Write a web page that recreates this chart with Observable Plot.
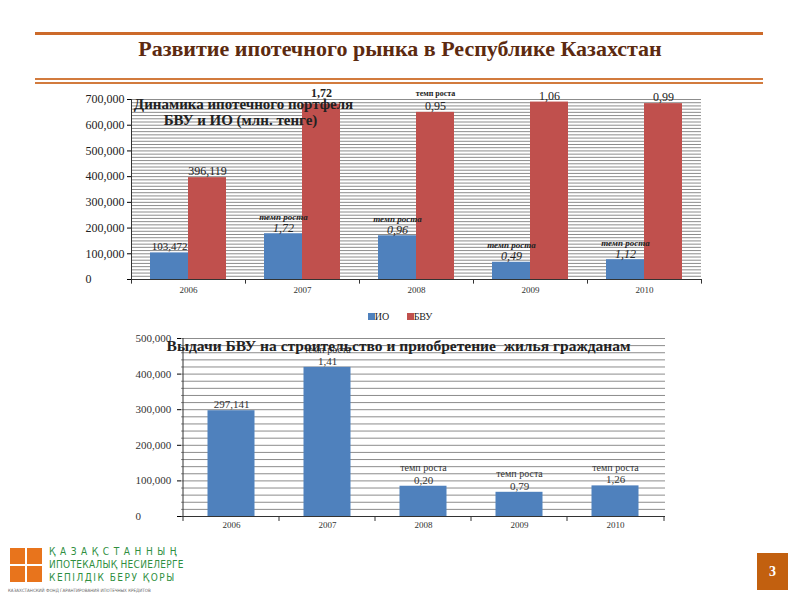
<!DOCTYPE html>
<html><head><meta charset="utf-8">
<script src="https://cdn.jsdelivr.net/npm/d3@7"></script>
<script src="https://cdn.jsdelivr.net/npm/@observablehq/plot@0.6"></script>
<style>
html,body{margin:0;padding:0;background:#fff;}
#page{position:relative;width:800px;height:600px;overflow:hidden;font-family:"Liberation Serif",serif;}
.abs{position:absolute;}
</style></head>
<body><div id="page">
<div class="abs" style="left:35px;top:32px;width:728px;height:3px;background:#cc6a2a"></div>
<div class="abs" id="title" style="left:0;top:36px;width:800px;text-align:center;font-size:22px;font-weight:bold;color:#5c2a10;">Развитие ипотечного рынка в Республике Казахстан</div>
<div class="abs" style="left:35px;top:78px;width:728px;height:2px;background:#d27b3e"></div>
<div class="abs" style="left:35px;top:82px;width:728px;height:2px;background:#d27b3e"></div>
<div class="abs" id="top" style="left:0;top:85px;"></div>
<div class="abs" id="legend" style="left:0;top:311px;width:800px;text-align:center;font-size:10px;color:#222;">
<span style="display:inline-block;width:7px;height:7px;background:#4F81BD;"></span>ИО&nbsp;&nbsp;&nbsp;&nbsp;&nbsp;&nbsp;&nbsp;<span style="display:inline-block;width:7px;height:7px;background:#C0504D;"></span>БВУ</div>
<div class="abs" id="bottom" style="left:0;top:330px;"></div>
<div class="abs" style="left:10px;top:548px;width:15px;height:16px;background:#e8741c"></div>
<div class="abs" style="left:27px;top:548px;width:15px;height:16px;background:#e8741c"></div>
<div class="abs" style="left:10px;top:566px;width:15px;height:16px;background:#e8741c"></div>
<div class="abs" style="left:27px;top:566px;width:15px;height:16px;background:#e8741c"></div>
<div class="abs" style="left:49px;top:546px;font-family:'DejaVu Sans Condensed','DejaVu Sans';font-size:10px;letter-spacing:4.6px;color:#2f8f3f;">ҚАЗАҚСТАННЫҢ</div>
<div class="abs" style="left:49px;top:559px;font-family:'DejaVu Sans Condensed','DejaVu Sans';font-size:10px;letter-spacing:0.3px;color:#2f8f3f;">ИПОТЕКАЛЫҚ НЕСИЕЛЕРГЕ</div>
<div class="abs" style="left:49px;top:572px;font-family:'DejaVu Sans Condensed','DejaVu Sans';font-size:10px;letter-spacing:1.5px;color:#2f8f3f;">КЕПІЛДІК БЕРУ ҚОРЫ</div>
<div class="abs" style="left:8px;top:588px;font-family:'DejaVu Sans Condensed','DejaVu Sans';font-size:4.5px;color:#666;">КАЗАХСТАНСКИЙ ФОНД ГАРАНТИРОВАНИЯ ИПОТЕЧНЫХ КРЕДИТОВ</div>
<div class="abs" style="left:757px;top:553px;width:31px;height:37px;background:#c2600f;color:#fff;font-weight:bold;font-size:14px;line-height:37px;text-align:center;">3</div>
</div>
<script>
const years = ["2006", "2007", "2008", "2009", "2010"];
const ioValues = [103472, 178000, 170000, 67000, 77000];
const bvuValues = [396119, 682000, 650000, 690000, 684000];
const ioLabels = ["103,472", "1,72", "0,96", "0,49", "1,12"];
const ioHeads = ["", "темп роста", "темп роста", "темп роста", "темп роста"];
const bvuLabels = ["396,119", "1,72", "0,95", "1,06", "0,99"];
const bvuHeads = ["", "", "темп роста", "", ""];
const topTicks = [0, 100000, 200000, 300000, 400000, 500000, 600000, 700000];
const topGridStep = 12500;

const loanValues = [297141, 419000, 85000, 68000, 86000];
const loanLabels = ["297,141", "1,41", "0,20", "0,79", "1,26"];
const loanHeads = ["", "темп роста", "темп роста", "темп роста", "темп роста"];
const bottomTicks = [0, 100000, 200000, 300000, 400000, 500000];
const bottomGridStep = 20000;

const seriesNames = ["ИО", "БВУ"];
const colors = ["#4F81BD", "#C0504D"];

const io = years.map((year, i) => ({year, value: ioValues[i], label: ioLabels[i], head: ioHeads[i]}));
const bvu = years.map((year, i) => ({year, value: bvuValues[i], label: bvuLabels[i], head: bvuHeads[i]}));
const loans = years.map((year, i) => ({year, value: loanValues[i], label: loanLabels[i], head: loanHeads[i]}));
const fmt = d3.format(",");
const topGrid = d3.range(0, 700000 + 1, topGridStep);
const bottomGrid = d3.range(0, 500000 + 1, bottomGridStep);

const topPlot = Plot.plot({
  width: 800, height: 215,
  marginLeft: 131, marginRight: 99, marginTop: 14, marginBottom: 21,
  x: {domain: years, padding: 0},
  y: {domain: [0, 700000]},
  style: {fontFamily: "Liberation Serif", background: "transparent", overflow: "visible"},
  marks: [
    Plot.ruleY(topGrid, {stroke: "#8c8c8c", strokeWidth: 1}),
    Plot.barY(io, {x: "year", y: "value", fill: colors[0], insetLeft: 19, insetRight: 57}),
    Plot.barY(bvu, {x: "year", y: "value", fill: colors[1], insetLeft: 57, insetRight: 19}),
    Plot.ruleY([0], {stroke: "#333"}),
    Plot.ruleX([years[0]], {y1: 0, y2: 700000, dx: -57, stroke: "#333"}),
    Plot.ruleX(years, {x: d => d, y1: 0, y2: -18000, dx: -57, stroke: "#333"}),
    Plot.ruleX([years[years.length - 1]], {y1: 0, y2: -18000, dx: 57, stroke: "#333"}),
    Plot.axisX({tickSize: 0, tickPadding: 7, fontSize: 9, fill: "#333", label: null}),
    Plot.axisY({ticks: topTicks, tickSize: 4, tickPadding: 42, textAnchor: "start", tickFormat: fmt, fontSize: 12, fill: "#222", label: null}),
    Plot.text(io.filter((d, i) => i === 0), {x: "year", y: "value", text: "label", dx: -19, dy: -6, fontSize: 11, fill: "#222"}),
    Plot.text(io.filter((d, i) => i > 0), {x: "year", y: "value", text: "label", dx: -19, dy: -6, fontSize: 12, fontStyle: "italic", fill: "#222"}),
    Plot.text(io.filter(d => d.head), {x: "year", y: "value", text: "head", dx: -19, dy: -17, fontSize: 9, fontStyle: "italic", fontWeight: "bold", fill: "#222"}),
    Plot.text(bvu.filter((d, i) => i !== 1), {x: "year", y: "value", text: "label", dx: 19, dy: -6, fontSize: 12, fill: "#222"}),
    Plot.text(bvu.filter((d, i) => i === 1), {x: "year", y: "value", text: "label", dx: 19, dy: -11, fontSize: 12, fontWeight: "bold", fill: "#222"}),
    Plot.text(bvu.filter(d => d.head), {x: "year", y: "value", text: "head", dx: 19, dy: -19, fontSize: 8, fontWeight: "bold", fill: "#222"}),
    Plot.text(["Динамика ипотечного портфеля"], {frameAnchor: "top-left", textAnchor: "middle", lineAnchor: "middle", dx: 112, dy: 5, fontSize: 15, fontWeight: "bold", fill: "#222"}),
    Plot.text(["БВУ и ИО (млн. тенге)"], {frameAnchor: "top-left", textAnchor: "middle", lineAnchor: "middle", dx: 109, dy: 21, fontSize: 15, fontWeight: "bold", fill: "#222"})
  ]
});
document.getElementById("top").appendChild(topPlot);

const bottomPlot = Plot.plot({
  width: 800, height: 200,
  marginLeft: 181, marginRight: 135, marginTop: 8, marginBottom: 14,
  x: {domain: years, padding: 0},
  y: {domain: [0, 500000]},
  style: {fontFamily: "Liberation Serif", background: "transparent", overflow: "visible"},
  marks: [
    Plot.ruleY(bottomGrid, {stroke: "#8c8c8c", strokeWidth: 1}),
    Plot.barY(loans, {x: "year", y: "value", fill: colors[0], insetLeft: 24.5, insetRight: 24.5}),
    Plot.ruleY([0], {stroke: "#333"}),
    Plot.ruleX([years[0]], {y1: 0, y2: 500000, dx: -48.5, stroke: "#333"}),
    Plot.ruleX(years, {x: d => d, y1: 0, y2: -14000, dx: -48.5, stroke: "#333"}),
    Plot.ruleX([years[years.length - 1]], {y1: 0, y2: -14000, dx: 48.5, stroke: "#333"}),
    Plot.axisX({tickSize: 0, tickPadding: 5, fontSize: 9, fill: "#333", label: null}),
    Plot.axisY({ticks: bottomTicks, tickSize: 4, tickPadding: 42, textAnchor: "start", tickFormat: fmt, fontSize: 11, fill: "#333", label: null}),
    Plot.text(loans, {x: "year", y: "value", text: "label", dy: -6, fontSize: 11, fill: "#333"}),
    Plot.text(loans.filter(d => d.head), {x: "year", y: "value", text: "head", dy: -18, fontSize: 10, fill: "#333"}),
    Plot.text(["Выдачи БВУ на строительство и приобретение  жилья гражданам"], {frameAnchor: "top-left", textAnchor: "middle", lineAnchor: "middle", dx: 217, dy: 8, fontSize: 15.5, fontWeight: "bold", fill: "#222"})
  ]
});
document.getElementById("bottom").appendChild(bottomPlot);
</script>
</body></html>
